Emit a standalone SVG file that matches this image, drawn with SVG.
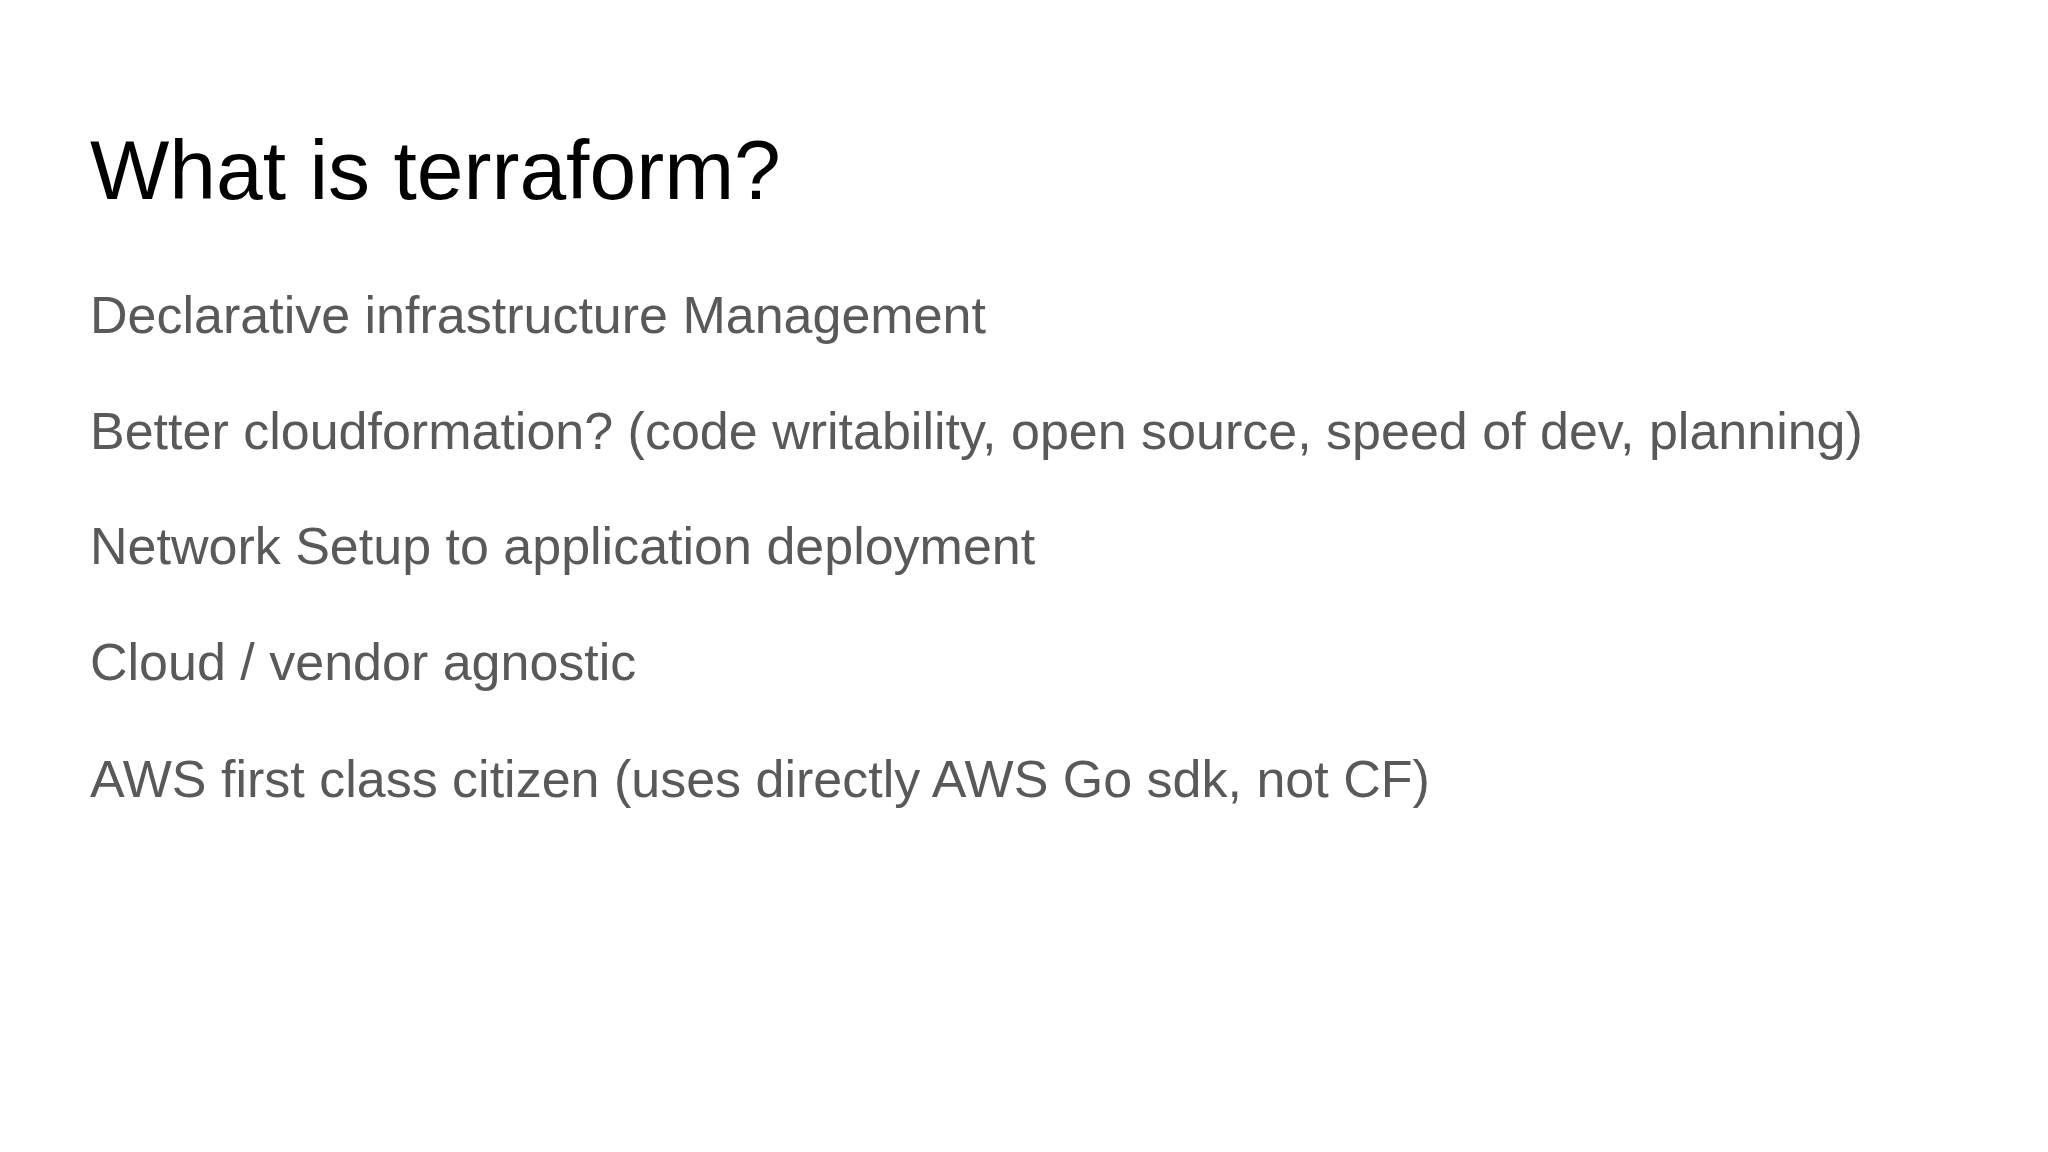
<svg xmlns="http://www.w3.org/2000/svg" width="2048" height="1152" viewBox="0 0 2048 1152">
<style>
.t{font-family:"Liberation Sans",Arial,sans-serif;font-size:84px;fill:#000}
.b{font-family:"Liberation Sans",Arial,sans-serif;font-size:52px;fill:#595959}
</style>
<rect width="2048" height="1152" fill="#fff"/>
<g id="title"><text class="t" x="90" y="199">What is terraform?</text></g>
<g id="body">
<text class="b" x="90" y="333">Declarative infrastructure Management</text>
<text class="b" x="90" y="449">Better cloudformation? (code writability, open source, speed of dev, planning)</text>
<text class="b" x="90" y="564">Network Setup to application deployment</text>
<text class="b" x="90" y="680">Cloud / vendor agnostic</text>
<text class="b" x="90" y="797">AWS first class citizen (uses directly AWS Go sdk, not CF)</text>
</g>
</svg>
